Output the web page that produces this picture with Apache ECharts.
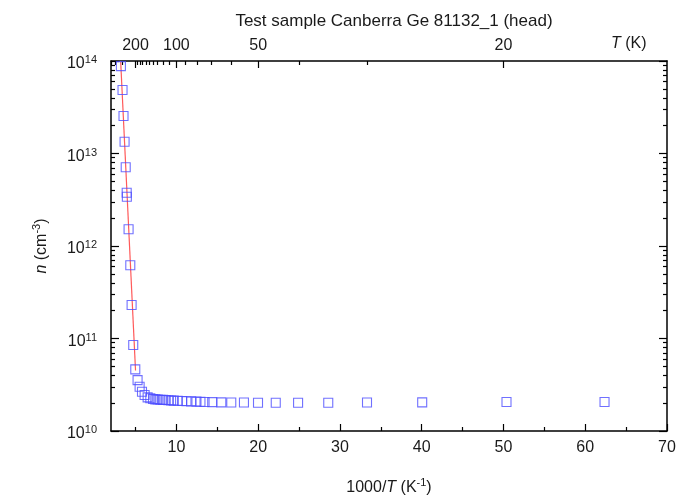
<!DOCTYPE html>
<html>
<head>
<meta charset="utf-8">
<script src="https://cdn.jsdelivr.net/npm/echarts@6/dist/echarts.min.js"></script>
<style>html,body{margin:0;padding:0;background:#fff;}#c{width:680px;height:499px;}</style>
</head>
<body>
<div id="c"></div>
<script>
// 1000/T (K^-1)
const invT = [3.21, 3.41, 3.53, 3.66, 3.80, 3.92, 3.94, 4.15, 4.36, 4.52, 4.72, 4.97,
  5.25, 5.50, 5.79, 6.11, 6.48, 6.81, 7.14,
  7.42, 7.71, 8.04, 8.37, 8.69, 9.02, 9.35, 9.67,
  10.16, 10.70, 11.23, 11.80, 12.45, 12.94, 13.44,
  14.38, 15.49, 16.71, 18.26, 19.98,
  22.15, 24.88, 28.57, 33.31, 40.06, 50.37, 62.36];
// carrier concentration n (cm^-3)
const nVals = [8.8e13, 4.85e13, 2.54e13, 1.34e13, 7.1e12, 3.77e12, 3.41e12, 1.52e12, 6.2e11, 2.3e11, 8.5e10, 4.64e10,
  3.55e10, 3.01e10, 2.66e10, 2.45e10, 2.31e10, 2.26e10, 2.22e10,
  2.20e10, 2.19e10, 2.18e10, 2.17e10, 2.16e10, 2.15e10, 2.14e10, 2.13e10,
  2.12e10, 2.11e10, 2.10e10, 2.09e10, 2.08e10, 2.07e10, 2.06e10,
  2.05e10, 2.04e10, 2.03e10, 2.03e10, 2.02e10,
  2.02e10, 2.02e10, 2.02e10, 2.03e10, 2.04e10, 2.06e10, 2.06e10];
// exponential fit line
const fitX = [3.18, 5.0];
const fitN = [1e14, 4.5e10];
// bottom axis ticks
const xMajor = [10, 20, 30, 40, 50, 60, 70];
const xMinor = [5, 15, 25, 35, 45, 55, 65];
// top axis temperatures (K)
const tMajor = [200, 100, 50, 20];
const tMinor = [500, 400, 300, 190, 180, 170, 160, 150, 140, 130, 120, 110, 90, 80, 70, 60, 40, 30];
// y decades and minor multipliers
const yDecades = [10, 11, 12, 13, 14];
const yMinorMult = [2, 3, 4, 5, 6, 7, 8, 9];

const FONT = 'Liberation Sans, Arial, sans-serif';
const TXT = '#1a1a1a';
const yMinorPos = [];
yDecades.slice(0, -1).forEach(k => yMinorMult.forEach(m => yMinorPos.push(k + Math.log10(m))));

const chart = echarts.init(document.getElementById('c'));
const lineStyle = {color: '#000', width: 1.5};
const tickStyle = {color: '#000', width: 1.2};
const xCommon = {type: 'value', min: 2, max: 70, splitLine: {show: false}};
const yCommonVal = {type: 'value', min: 10, max: 14, splitLine: {show: false}, axisLabel: {show: false}};
const nameRich = {
  r: {fontSize: 16, fontFamily: FONT, color: TXT, lineHeight: 22},
  i: {fontStyle: 'italic', fontSize: 16, fontFamily: FONT, color: TXT, lineHeight: 22},
  s: {fontSize: 11, verticalAlign: 'top', fontFamily: FONT, color: TXT, lineHeight: 11}
};

chart.setOption({
  animation: false,
  title: {
    text: 'Test sample Canberra Ge 81132_1 (head)',
    left: 389, top: 8, textAlign: 'center',
    textStyle: {fontFamily: FONT, fontSize: 17, fontWeight: 'normal', color: TXT}
  },
  graphic: [{
    type: 'text', left: 611, top: 36,
    style: {
      text: '{i|T} (K)',
      rich: {i: {fontStyle: 'italic', fontSize: 16, fontFamily: FONT, fill: TXT}},
      fontSize: 16, fontFamily: FONT, fill: TXT
    }
  }],
  grid: {left: 111, right: 13, top: 61, bottom: 68, containLabel: false, outerBoundsMode: 'none'},
  xAxis: [
    Object.assign({}, xCommon, {
      position: 'bottom',
      axisLine: {show: true, lineStyle: lineStyle},
      axisTick: {show: true, inside: true, length: 7, customValues: xMajor, lineStyle: tickStyle},
      axisLabel: {customValues: xMajor, margin: 9, fontFamily: FONT, fontSize: 16, color: TXT},
      name: '{r|1000/}{i|T}{r| (K}{s|-1}{r|)}', nameLocation: 'middle', nameGap: 46,
      nameTextStyle: {fontFamily: FONT, fontSize: 16, color: TXT, rich: nameRich}
    }),
    Object.assign({}, xCommon, {
      position: 'bottom',
      axisLine: {show: false},
      axisTick: {show: true, inside: true, length: 4, customValues: xMinor, lineStyle: tickStyle},
      axisLabel: {show: false}
    }),
    Object.assign({}, xCommon, {
      position: 'top',
      axisLine: {show: true, lineStyle: lineStyle},
      axisTick: {show: true, inside: true, length: 7, customValues: tMajor.map(t => 1000 / t), lineStyle: tickStyle},
      axisLabel: {customValues: tMajor.map(t => 1000 / t), margin: 7, fontFamily: FONT, fontSize: 16, color: TXT,
        formatter: v => String(Math.round(1000 / v))}
    }),
    Object.assign({}, xCommon, {
      position: 'top',
      axisLine: {show: false},
      axisTick: {show: true, inside: true, length: 4, customValues: tMinor.map(t => 1000 / t), lineStyle: tickStyle},
      axisLabel: {show: false}
    })
  ],
  yAxis: [
    {
      type: 'log', logBase: 10, min: 1e10, max: 1e14, position: 'left',
      splitLine: {show: false},
      axisLine: {show: true, lineStyle: lineStyle},
      axisTick: {show: true, inside: true, length: 8, lineStyle: tickStyle},
      axisLabel: {
        margin: 14, fontFamily: FONT, color: TXT, padding: [6, 0, 0, 0],
        formatter: v => '{b|10}{s|' + Math.round(Math.log10(v)) + '}',
        rich: {
          b: {fontSize: 16, fontFamily: FONT, color: TXT, lineHeight: 19},
          s: {fontSize: 11, fontFamily: FONT, color: TXT, verticalAlign: 'top', lineHeight: 11}
        }
      },
      name: '{i|n}{r| (cm}{s|-3}{r|)}', nameLocation: 'middle', nameGap: 58,
      nameTextStyle: {fontFamily: FONT, fontSize: 16, color: TXT, rich: nameRich}
    },
    Object.assign({}, yCommonVal, {
      position: 'left',
      axisLine: {show: false},
      axisTick: {show: true, inside: true, length: 4, customValues: yMinorPos, lineStyle: tickStyle}
    }),
    Object.assign({}, yCommonVal, {
      position: 'right',
      axisLine: {show: true, lineStyle: lineStyle},
      axisTick: {show: true, inside: true, length: 8, customValues: yDecades, lineStyle: tickStyle}
    }),
    Object.assign({}, yCommonVal, {
      position: 'right',
      axisLine: {show: false},
      axisTick: {show: true, inside: true, length: 4, customValues: yMinorPos, lineStyle: tickStyle}
    })
  ],
  series: [
    {
      type: 'line', xAxisIndex: 0, yAxisIndex: 0,
      data: fitX.map((x, i) => [x, fitN[i]]),
      symbol: 'none', lineStyle: {color: '#ff5a5a', width: 1.2}, z: 2
    },
    {
      type: 'scatter', xAxisIndex: 0, yAxisIndex: 0,
      data: invT.map((x, i) => [x, nVals[i]]),
      symbol: 'rect', symbolSize: 9,
      itemStyle: {color: 'rgba(0,0,0,0)', borderColor: '#4c4cff', borderWidth: 1.1}, z: 3
    }
  ]
});
</script>
</body>
</html>
